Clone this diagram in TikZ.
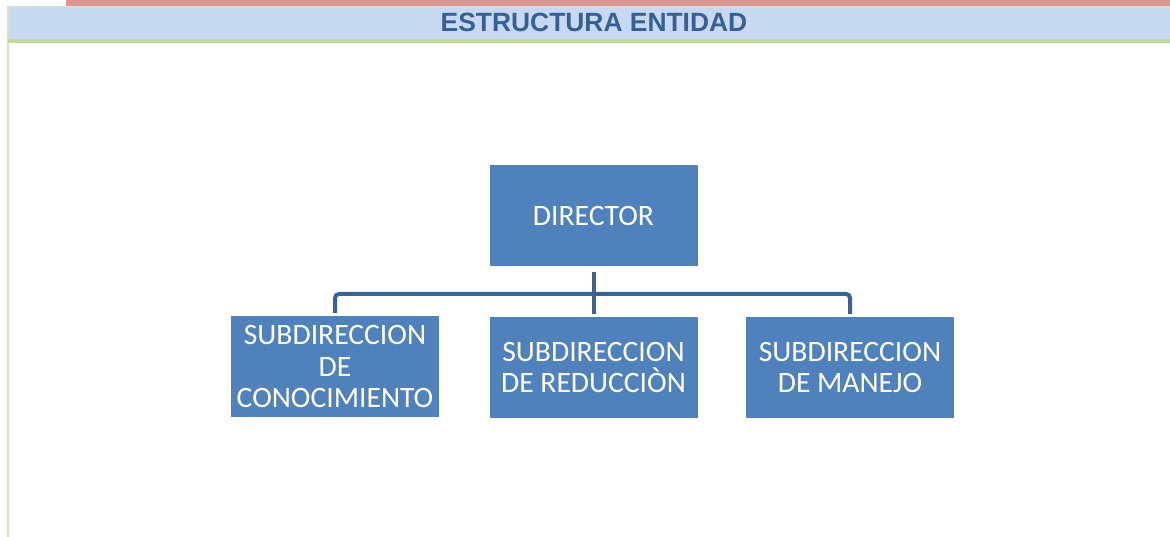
\documentclass[tikz,border=0pt]{standalone}
\usepackage{fontspec}
\newfontfamily\carlito{Carlito}
\newfontfamily\arialf{Liberation Sans}
\definecolor{boxblue}{HTML}{4F81BD}
\definecolor{connblue}{HTML}{3A6294}
\definecolor{headblue}{HTML}{C6D9F0}
\definecolor{headgreen}{HTML}{C3D69B}
\definecolor{lightgreen}{HTML}{D7E4BD}
\definecolor{redband}{HTML}{DA9694}
\definecolor{titleblue}{HTML}{376092}
\tikzset{
  orgbox/.style={draw=none, fill=boxblue, minimum width=208pt, minimum height=101pt,
    inner sep=0pt, text=white, align=center,
    font=\carlito\fontsize{29.6}{31.5}\selectfont},
  conn/.style={draw=connblue, line width=4pt, rounded corners=4pt}
}
\begin{document}
\begin{tikzpicture}[x=1pt,y=-1pt]
\useasboundingbox (0,0) rectangle (1170,537);
% page decorations
\fill[redband] (66,0) rectangle (1170,6);
\fill[lightgreen] (7,6) rectangle (1170,7.5);
\fill[lightgreen] (7,6) rectangle (9,537);
\fill[headblue] (9,7.5) rectangle (1170,39);
\fill[headgreen] (8,39) rectangle (1170,43);
\node[font=\arialf\bfseries\fontsize{26.4}{30}\selectfont, text=titleblue, inner sep=0pt]
  (title) at (594,22.5) {ESTRUCTURA ENTIDAD};
% boxes
\node[orgbox] (dir) at (593.5,215.5) {DIRECTOR};
\node[orgbox] (left) at (335,366.5) {SUBDIRECCION\\DE\\CONOCIMIENTO};
\node[orgbox] (mid) at (593.5,367.5) {SUBDIRECCION\\DE REDUCCIÒN};
\node[orgbox] (right) at (850,367.5) {SUBDIRECCION\\DE MANEJO};
% connectors
\coordinate (bar) at (593,294);
\draw[conn] ([yshift=-6pt]dir.south) -- ([yshift=3pt]mid.north);
\draw[conn] ([yshift=3pt]left.north) |- (bar) -| ([yshift=3pt]right.north);
\end{tikzpicture}
\end{document}
